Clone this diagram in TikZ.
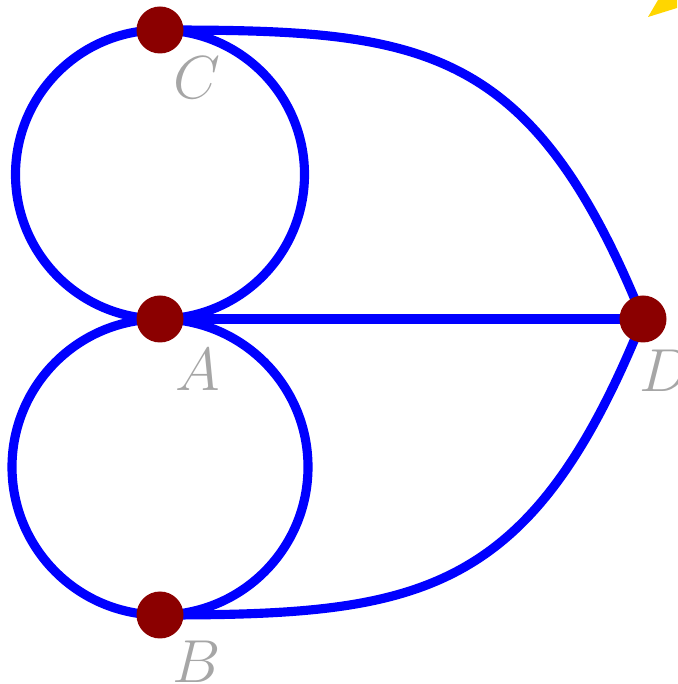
\documentclass[tikz,border=0pt]{standalone}
\usetikzlibrary{positioning}
\definecolor{dotred}{RGB}{139,0,0}
\definecolor{lblgray}{RGB}{166,166,166}
\definecolor{boltyellow}{RGB}{255,214,0}
\tikzset{
  bridge/.style={blue, line width=2.6pt},
  vertex/.style={circle, fill=dotred, inner sep=0pt, minimum size=0.47cm},
  lbl/.style={text=lblgray, font=\fontsize{19}{23}\selectfont}
}
\begin{document}
\begin{tikzpicture}
  \useasboundingbox (0,0) rectangle (6.77,6.84);
  \coordinate (C) at (1.60,6.54);
  \coordinate (A) at (1.60,3.65);
  \coordinate (B) at (1.60,0.69);
  \coordinate (D) at (6.43,3.65);
  % corner of the bolt
  \fill[boltyellow] (6.48,6.67) -- (6.58,6.84) -- (6.77,6.84) -- (6.77,6.76) -- cycle;
  % bridges
  \draw[bridge] (A) arc[start angle=270, end angle=90, radius=1.445];
  \draw[bridge] (A) arc[start angle=-90, end angle=90, radius=1.445];
  \draw[bridge] (A) arc[start angle=90, end angle=270, radius=1.48];
  \draw[bridge] (A) arc[start angle=90, end angle=-90, radius=1.48];
  \draw[bridge] (A) -- (D);
  \draw[bridge] (C) .. controls +(0:2.6) and +(112:3.0) .. (D);
  \draw[bridge] (B) .. controls +(0:2.6) and +(-112:3.0) .. (D);
  % land masses
  \foreach \p in {A,B,C,D}
    \node[vertex] (v\p) at (\p) {};
  \path (C) ++(0.37,-0.48) node[lbl] (lC) {$C$};
  \path (A) ++(0.38,-0.51) node[lbl] (lA) {$A$};
  \path (B) ++(0.37,-0.47) node[lbl] (lB) {$B$};
  \path (D) ++(0.22,-0.52) node[lbl] (lD) {$D$};
\end{tikzpicture}
\end{document}
